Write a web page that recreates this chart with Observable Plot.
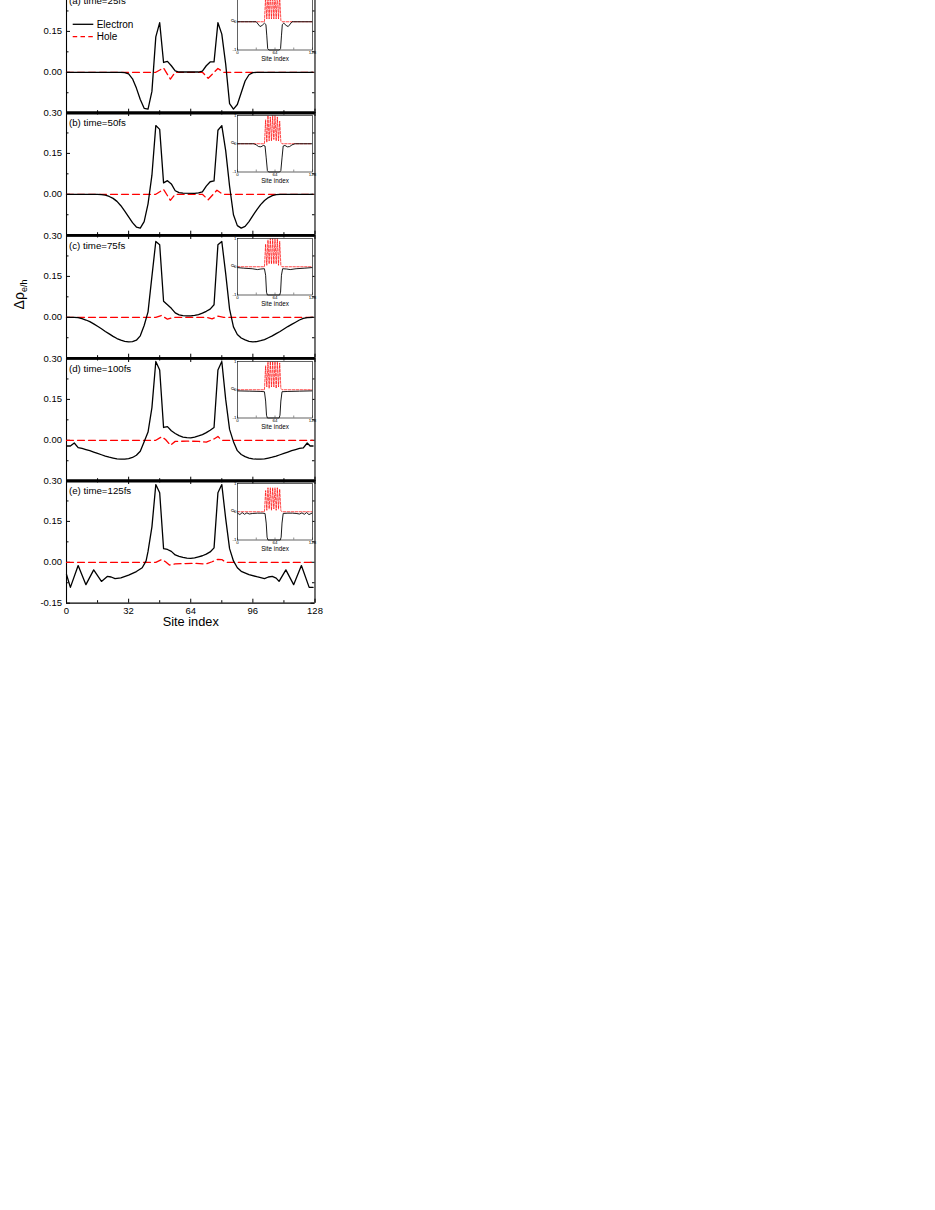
<!DOCTYPE html>
<html><head><meta charset="utf-8">
<script src="https://cdn.jsdelivr.net/npm/d3@7"></script>
<script src="https://cdn.jsdelivr.net/npm/@observablehq/plot@0.6"></script>
<style>
html,body{margin:0;padding:0;background:#fff;}
#wrap{position:relative;width:935px;height:1210px;overflow:hidden;background:#fff;font-family:"Liberation Sans",Arial,sans-serif;}
#wrap svg{position:absolute;overflow:visible;}
</style></head><body><div id="wrap"></div>
<script>
// ---------------- data ----------------
const timeLabels = ["(a) time=25fs", "(b) time=50fs", "(c) time=75fs", "(d) time=100fs", "(e) time=125fs"];
const seriesNames = ["Electron", "Hole"];
const xDomain = [0, 128];
const yDomain = [-0.15, 0.30];
const xMajorTicks = [0, 32, 64, 96, 128];
const xMinorTicks = [16, 48, 80, 112];
const xTickLabels = ["0", "32", "64", "96", "128"];
const yMajorTicks = [0.30, 0.15, 0.00, -0.15];
const yMinorTicks = [0.225, 0.075, -0.075];
const yTickLabels = ["0.30", "0.15", "0.00", "-0.15"];
const xTitle = "Site index";

// main panels: electron [site, value]
const elecA = [[0,0],[28,0],[30,-0.001],[32,-0.006],[34,-0.024],[36,-0.058],[38,-0.1],[40,-0.132],[42,-0.135],[44,-0.07],[46,0.13],[48,0.182],[50,0.036],[52,0.04],[54,0.024],[56,0.005],[58,0.001],[68,0.001],[70,0.004],[72,0.024],[74,0.038],[76,0.038],[78,0.182],[80,0.14],[82,0.03],[84,-0.115],[86,-0.135],[88,-0.118],[90,-0.075],[92,-0.032],[94,-0.009],[96,-0.001],[98,0],[127,0]];
const elecB = [[0,0],[16,0],[18,-0.001],[20,-0.003],[22,-0.008],[24,-0.015],[26,-0.026],[28,-0.042],[30,-0.062],[32,-0.083],[34,-0.104],[36,-0.12],[38,-0.124],[40,-0.1],[42,-0.035],[44,0.07],[46,0.252],[48,0.238],[50,0.042],[52,0.05],[54,0.038],[56,0.013],[58,0.006],[60,0.004],[66,0.003],[68,0.005],[70,0.009],[72,0.03],[74,0.046],[76,0.049],[78,0.235],[80,0.252],[82,0.16],[84,0.03],[86,-0.075],[88,-0.115],[90,-0.124],[92,-0.118],[94,-0.1],[96,-0.078],[98,-0.057],[100,-0.038],[102,-0.023],[104,-0.012],[106,-0.005],[108,-0.001],[110,0],[127,0]];
const elecC = [[0,0],[4,0],[6,-0.001],[8,-0.005],[10,-0.01],[12,-0.016],[14,-0.024],[16,-0.033],[18,-0.042],[20,-0.052],[22,-0.061],[24,-0.07],[26,-0.078],[28,-0.084],[30,-0.088],[32,-0.09],[34,-0.089],[36,-0.084],[38,-0.068],[40,-0.03],[42,0.02],[44,0.15],[46,0.278],[48,0.266],[50,0.059],[52,0.046],[54,0.033],[56,0.016],[58,0.009],[60,0.006],[62,0.005],[64,0.005],[66,0.007],[68,0.01],[70,0.015],[72,0.022],[74,0.03],[76,0.046],[78,0.266],[80,0.278],[82,0.16],[84,0.03],[86,-0.035],[88,-0.063],[90,-0.076],[92,-0.083],[94,-0.088],[96,-0.09],[98,-0.089],[100,-0.086],[102,-0.082],[104,-0.075],[106,-0.068],[108,-0.06],[110,-0.052],[112,-0.043],[114,-0.034],[116,-0.026],[118,-0.018],[120,-0.01],[122,-0.004],[124,-0.001],[127,0]];
const elecD = [[0,-0.021],[2,-0.021],[4,-0.01],[6,-0.027],[8,-0.03],[10,-0.034],[12,-0.038],[14,-0.043],[16,-0.048],[18,-0.053],[20,-0.058],[22,-0.062],[24,-0.065],[26,-0.068],[28,-0.069],[30,-0.069],[32,-0.067],[34,-0.063],[36,-0.055],[38,-0.04],[40,-0.005],[42,0.03],[44,0.12],[46,0.289],[48,0.258],[50,0.047],[52,0.05],[54,0.035],[56,0.025],[58,0.017],[60,0.012],[62,0.01],[64,0.009],[66,0.012],[68,0.016],[70,0.021],[72,0.028],[74,0.037],[76,0.047],[78,0.258],[80,0.289],[82,0.15],[84,0.04],[86,-0.005],[88,-0.038],[90,-0.052],[92,-0.06],[94,-0.065],[96,-0.068],[98,-0.069],[100,-0.069],[102,-0.068],[104,-0.065],[106,-0.062],[108,-0.058],[110,-0.053],[112,-0.048],[114,-0.043],[116,-0.038],[118,-0.034],[120,-0.03],[122,-0.028],[124,-0.01],[125.5,-0.021],[127,-0.021]];
const elecE = [[0,-0.045],[2,-0.092],[6,-0.012],[10,-0.082],[14,-0.028],[18,-0.07],[21,-0.052],[23,-0.054],[25,-0.06],[28,-0.057],[32,-0.047],[36,-0.034],[39,-0.02],[41,0.005],[42,0.04],[44,0.13],[46,0.285],[48,0.255],[50,0.05],[52,0.047],[54,0.04],[56,0.027],[58,0.022],[60,0.018],[62,0.015],[64,0.014],[66,0.016],[68,0.02],[70,0.024],[72,0.03],[74,0.038],[76,0.053],[78,0.255],[80,0.285],[82,0.16],[84,0.05],[86,0.005],[88,-0.02],[90,-0.033],[94,-0.045],[98,-0.053],[102,-0.06],[104,-0.054],[106,-0.052],[108,-0.058],[109.5,-0.07],[113,-0.028],[117,-0.082],[121,-0.012],[125,-0.092],[127,-0.092]];

// main panels: hole [site, value]
const holeA = [[0,0],[46,0],[50,0.016],[53.5,-0.025],[56,0],[70,0],[73,-0.022],[78,0.014],[81,0],[127,0]];
const holeB = [[0,0],[46,0],[50,0.018],[53.5,-0.022],[56,0],[70,0],[73,-0.02],[77.5,0.015],[80.5,0],[127,0]];
const holeC = [[0,0],[46,0],[49,0.007],[52,-0.007],[55,0],[72,0],[75,-0.006],[78,0.004],[81,0],[127,0]];
const holeD = [[0,0],[46,0],[49,0.013],[51,0.003],[53.5,-0.018],[56,-0.004],[62,-0.003],[68,-0.004],[72,-0.007],[76,0.005],[78,0.014],[80,0],[127,0]];
const holeE = [[0,0],[46,0],[49,0.01],[51,0.002],[53,-0.01],[56,-0.006],[60,-0.005],[66,-0.004],[72,-0.006],[75,0.002],[78,0.011],[80,0.01],[82,0],[127,0]];

// insets
const insetXTicks = [0, 64, 128];
const insetXLabels = ["0", "64", "128"];
const insetYTicks = [1, 0, -1];
const insetYLabels = ["1", "0", "-1"];
const insetYTitle = "ρ";
const insetElecA = [[0,0],[32,0],[35,-0.08],[38.5,-0.17],[42,-0.13],[46,-0.05],[48.5,-0.1],[50,-0.5],[51.5,-0.95],[53.5,-1],[71.5,-1],[73.5,-0.95],[75,-0.5],[76.5,-0.1],[79,-0.05],[83,-0.13],[86.5,-0.17],[90,-0.08],[93,0],[127,0]];
const insetElecB = [[0,0],[28,0],[32,-0.04],[36,-0.1],[40,-0.11],[44,-0.06],[47,-0.08],[49,-0.5],[51,-0.95],[53,-1],[72,-1],[74,-0.95],[76,-0.5],[78,-0.08],[81,-0.06],[85,-0.11],[89,-0.1],[93,-0.04],[98,0],[127,0]];
const insetElecC = [[0,-0.03],[10,-0.05],[25,-0.07],[34,-0.1],[40,-0.08],[46,-0.07],[48,-0.3],[49.5,-0.9],[51,-1],[72,-1],[73.5,-0.9],[75,-0.3],[77,-0.07],[84,-0.08],[90,-0.1],[100,-0.07],[115,-0.05],[127,-0.03]];
const insetElecD = [[0,-0.04],[20,-0.05],[40,-0.06],[46,-0.07],[48,-0.4],[49.5,-0.9],[51,-1],[71,-1],[72.5,-0.9],[74,-0.4],[76,-0.07],[86,-0.06],[106,-0.05],[127,-0.04]];
const insetElecE = [[0,-0.05],[4,-0.1],[8,-0.03],[12,-0.09],[16,-0.04],[20,-0.08],[26,-0.06],[34,-0.05],[42,-0.05],[47,-0.06],[49,-0.4],[50.5,-0.9],[52,-1],[73,-1],[74.5,-0.9],[76,-0.4],[78,-0.06],[86,-0.05],[94,-0.05],[100,-0.06],[106,-0.08],[110,-0.04],[114,-0.09],[118,-0.03],[122,-0.1],[127,-0.05]];
const insetHoleX = [0,46,48,50,52,54,56,58,60,62,64,66,68,70,72,74,76,127];
const insetHoleA = [0,0,0.9,0.1,1,0.1,1,0.1,1,0.1,1,0.1,1,0.1,0.9,0.05,0,0];
const insetHoleB = [0,0,0.85,0.05,1,0.1,0.95,0.1,1,0.15,1,0.1,0.95,0.1,0.8,0.05,0,0];
const insetHoleC = [0,0,0.8,0.05,0.95,0.1,1,0.1,1,0.1,1,0.1,1,0.05,0.9,0.05,0,0];
const insetHoleD = [0,0,0.85,0.1,1,0.05,1,0.1,1,0.1,1,0.05,1,0.1,0.95,0.05,0,0];
const insetHoleE = [0,0,0.75,0.05,0.85,0.1,0.85,0.05,0.85,0.1,0.85,0.05,0.85,0.1,0.8,0.05,0,0];

const elecAll = [elecA, elecB, elecC, elecD, elecE];
const holeAll = [holeA, holeB, holeC, holeD, holeE];
const insetElecAll = [insetElecA, insetElecB, insetElecC, insetElecD, insetElecE];
const insetHoleAll = [insetHoleA, insetHoleB, insetHoleC, insetHoleD, insetHoleE].map(ys => insetHoleX.map((x, k) => [x, ys[k]]));

// ---------------- layout ----------------
const wrap = document.getElementById("wrap");
const FONT = '"Liberation Sans", Arial, Helvetica, sans-serif';
const PL = 66, PR = 314.5, PH = 122.7;
const panelTops = [-10.5, 112.2, 234.9, 357.6, 480.3];
const MT = 12, MR = 20;
const kx = (xDomain[1] - xDomain[0]) / (PR - PL);   // data per px
const ky = (yDomain[1] - yDomain[0]) / PH;

function place(el, left, top) {
  el.style.left = left + "px";
  el.style.top = top + "px";
  wrap.appendChild(el);
}

panelTops.forEach((top, i) => {
  const last = i === panelTops.length - 1;
  const MB = last ? 40 : 12;
  const shownY = last ? yMajorTicks : yMajorTicks.slice(0, 3);
  const marks = [
    Plot.ruleY([yDomain[1]], {stroke: "black", strokeWidth: 2.4}),
    Plot.ruleY([yDomain[0]], {stroke: "black", strokeWidth: last ? 1.2 : 2.4}),
    Plot.ruleX([xDomain[0], xDomain[1]], {stroke: "black", strokeWidth: 1.1}),
    Plot.ruleX(xMajorTicks, {x: d => d, y1: yDomain[0], y2: yDomain[0] + 4 * ky, stroke: "black", strokeWidth: 1}),
    Plot.ruleX(xMajorTicks, {x: d => d, y1: yDomain[1], y2: yDomain[1] - 4 * ky, stroke: "black", strokeWidth: 1}),
    Plot.ruleX(xMinorTicks, {x: d => d, y1: yDomain[0], y2: yDomain[0] + 2.5 * ky, stroke: "black", strokeWidth: 1}),
    Plot.ruleX(xMinorTicks, {x: d => d, y1: yDomain[1], y2: yDomain[1] - 2.5 * ky, stroke: "black", strokeWidth: 1}),
    Plot.ruleY(yMajorTicks, {y: d => d, x1: xDomain[0], x2: xDomain[0] + 4 * kx, stroke: "black", strokeWidth: 1}),
    Plot.ruleY(yMajorTicks, {y: d => d, x1: xDomain[1] - 4 * kx, x2: xDomain[1], stroke: "black", strokeWidth: 1}),
    Plot.ruleY(yMinorTicks, {y: d => d, x1: xDomain[0], x2: xDomain[0] + 2.5 * kx, stroke: "black", strokeWidth: 1}),
    Plot.ruleY(yMinorTicks, {y: d => d, x1: xDomain[1] - 2.5 * kx, x2: xDomain[1], stroke: "black", strokeWidth: 1}),
    Plot.line(holeAll[i], {x: d => d[0], y: d => d[1], stroke: "#ff0000", strokeWidth: 1.3, strokeDasharray: "7,4"}),
    Plot.line(elecAll[i], {x: d => d[0], y: d => d[1], stroke: "black", strokeWidth: 1.3}),
    Plot.axisY({ticks: shownY, tickSize: 0, tickPadding: 4.5, label: null,
      tickFormat: d => yTickLabels[yMajorTicks.indexOf(d)]}),
    Plot.text([timeLabels[i]], {text: d => d, frameAnchor: "top-left", dx: 2.5, dy: 13.5,
      lineAnchor: "bottom", textAnchor: "start", fontSize: 9.7})
  ];
  if (last) {
    marks.push(Plot.axisX({ticks: xMajorTicks, tickSize: 0, tickPadding: 4.5, label: null,
      tickFormat: d => xTickLabels[xMajorTicks.indexOf(d)]}));
    marks.push(Plot.text([xTitle], {text: d => d, frameAnchor: "bottom", dy: 23, lineAnchor: "bottom", fontSize: 12.8}));
  }
  const p = Plot.plot({
    width: PR + MR, height: MT + PH + MB,
    marginLeft: PL, marginRight: MR, marginTop: MT, marginBottom: MB,
    x: {domain: xDomain, axis: null},
    y: {domain: yDomain, axis: null},
    style: {background: "transparent", fontFamily: FONT, fontSize: "9.5px", overflow: "visible", color: "black"},
    marks
  });
  place(p, 0, top - MT);
});

// insets
const IL = 237, IR = 312, IH = 56.5;
panelTops.forEach((top, i) => {
  const ml = 12, mr = 3, mt = 3, mb = 16;
  const p = Plot.plot({
    width: ml + (IR - IL) + mr, height: mt + IH + mb,
    marginLeft: ml, marginRight: mr, marginTop: mt, marginBottom: mb,
    x: {domain: xDomain, axis: null},
    y: {domain: [-1, 1], axis: null},
    style: {background: "transparent", fontFamily: FONT, fontSize: "4.4px", overflow: "visible", color: "black"},
    marks: [
      Plot.frame({fill: "white", stroke: "none"}),
      Plot.line(insetHoleAll[i], {x: d => d[0], y: d => d[1], stroke: "#ff0000", strokeWidth: 0.7, strokeDasharray: "2.5,1.4"}),
      Plot.line(insetElecAll[i], {x: d => d[0], y: d => d[1], stroke: "black", strokeWidth: 0.9}),
      Plot.ruleX([0, 32, 64, 96, 128], {x: d => d, y1: -1, y2: -0.93, stroke: "#222", strokeWidth: 0.5}),
      Plot.ruleY(insetYTicks, {y: d => d, x1: 0, x2: 2.5, stroke: "#222", strokeWidth: 0.5}),
      Plot.frame({stroke: "#222", strokeWidth: 0.7}),
      Plot.axisX({ticks: insetXTicks, tickSize: 0, tickPadding: 1.2, label: null,
        tickFormat: d => insetXLabels[insetXTicks.indexOf(d)]}),
      Plot.axisY({ticks: insetYTicks, tickSize: 0, tickPadding: 1, label: null,
        tickFormat: d => insetYLabels[insetYTicks.indexOf(d)]}),
      Plot.text([xTitle], {text: d => d, frameAnchor: "bottom", dy: 9.3, lineAnchor: "middle", fontSize: 6.3}),
      Plot.text([insetYTitle], {text: d => d, frameAnchor: "left", dx: -5, rotate: -90, lineAnchor: "middle", fontSize: 5})
    ]
  });
  place(p, IL - ml, top + 3 - mt);
});

// legend and y title overlay
const ov = d3.create("svg").attr("width", 935).attr("height", 1210)
  .style("left", "0px").style("top", "0px").style("font-family", FONT);
const leg = ov.append("g");
leg.append("line").attr("x1", 72.7).attr("x2", 93.3).attr("y1", 24.3).attr("y2", 24.3)
  .attr("stroke", "black").attr("stroke-width", 1.3);
leg.append("text").attr("x", 96.7).attr("y", 27.8).attr("font-size", 10).text(seriesNames[0]);
leg.append("line").attr("x1", 72.7).attr("x2", 93.3).attr("y1", 36.7).attr("y2", 36.7)
  .attr("stroke", "#ff0000").attr("stroke-width", 1.3).attr("stroke-dasharray", "4.5,3.3");
leg.append("text").attr("x", 96.7).attr("y", 40.2).attr("font-size", 10).text(seriesNames[1]);
const yt = ov.append("text").attr("transform", "translate(23.5,294.5) rotate(-90)")
  .attr("text-anchor", "middle").attr("font-size", 14);
yt.append("tspan").text("Δρ");
yt.append("tspan").attr("font-size", 9).attr("dy", 3.5).text("e/h");
wrap.appendChild(ov.node());
</script>
</body></html>
